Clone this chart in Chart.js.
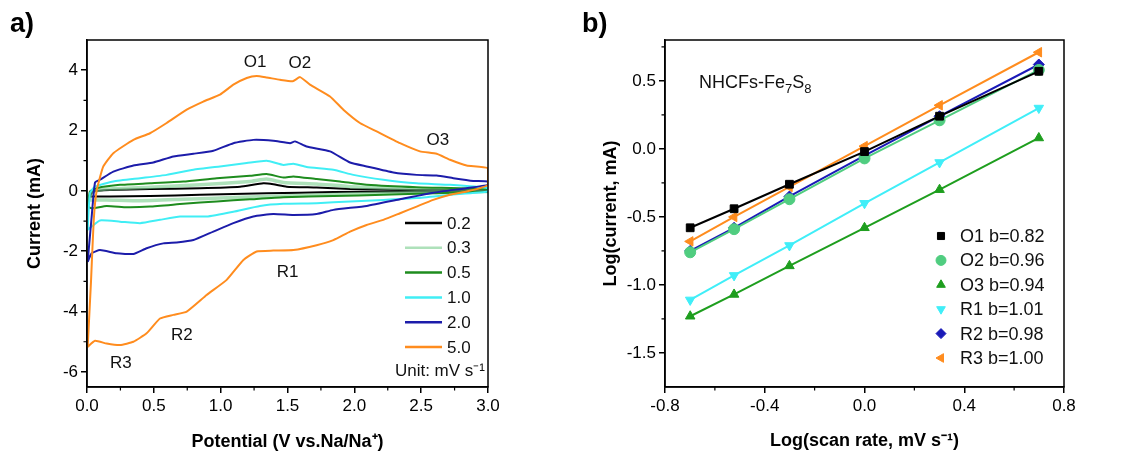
<!DOCTYPE html>
<html>
<head>
<meta charset="utf-8">
<script src="https://cdn.jsdelivr.net/npm/chart.js@4.4.0/dist/chart.umd.min.js"></script>
<style>
body{margin:0;background:#fff;width:1121px;height:460px;overflow:hidden;position:relative}
#wa{position:absolute;left:0;top:0;width:560px;height:460px}
#wb{position:absolute;left:560px;top:0;width:561px;height:460px}
</style>
</head>
<body>
<div id="wa"><canvas id="cvA"></canvas></div>
<div id="wb"><canvas id="cvB"></canvas></div>
<script>
// ---- panel a: CV curves (potential V, current mA), anodic then cathodic branch
const rateLabels = ['0.2', '0.3', '0.5', '1.0', '2.0', '5.0']
const rateColors = ['#000000', 'rgba(120,205,140,0.6)', '#1e8c1e', '#40eef5', '#1c1caa', '#ff8c1e']

const cv02x = [0.017, 0.047, 0.172, 0.471, 0.845, 1.145, 1.319, 1.394, 1.494, 1.718, 1.968, 2.466, 3.0, 3.0, 2.342, 1.843, 1.344, 0.845, 0.471, 0.172, 0.047, 0.017]
const cv02y = [-0.19, -0.02, 0.03, 0.06, 0.09, 0.14, 0.25, 0.22, 0.14, 0.11, 0.06, 0.03, 0.02, -0.01, -0.02, -0.04, -0.08, -0.13, -0.17, -0.19, -0.19, -0.19]

const cv03x = [0.01, 0.047, 0.147, 0.471, 0.845, 1.219, 1.344, 1.469, 1.718, 1.968, 2.466, 3.0, 3.0, 2.466, 1.968, 1.469, 1.095, 0.721, 0.397, 0.147, 0.047, 0.01]
const cv03y = [-0.30, -0.02, 0.06, 0.12, 0.20, 0.31, 0.39, 0.28, 0.23, 0.14, 0.06, 0.03, -0.02, -0.06, -0.10, -0.17, -0.22, -0.28, -0.33, -0.30, -0.30, -0.30]

const cv05x = [0.005, 0.022, 0.072, 0.247, 0.471, 0.721, 0.970, 1.219, 1.344, 1.469, 1.544, 1.718, 1.893, 2.092, 2.466, 3.0, 3.0, 2.59, 2.217, 1.843, 1.469, 1.219, 0.970, 0.721, 0.471, 0.297, 0.147, 0.035, 0.005]
const cv05y = [-0.52, -0.02, 0.09, 0.20, 0.25, 0.31, 0.42, 0.50, 0.56, 0.44, 0.48, 0.39, 0.31, 0.20, 0.12, 0.06, -0.02, -0.08, -0.13, -0.17, -0.21, -0.28, -0.35, -0.43, -0.52, -0.54, -0.50, -0.58, -0.52]

const cv10x = [0.005, 0.022, 0.06, 0.197, 0.397, 0.596, 0.796, 0.995, 1.195, 1.344, 1.469, 1.544, 1.643, 1.843, 1.993, 2.217, 2.466, 2.716, 3.0, 3.0, 2.716, 2.466, 2.217, 1.968, 1.718, 1.469, 1.294, 1.095, 0.895, 0.696, 0.546, 0.397, 0.247, 0.097, 0.035, 0.005]
const cv10y = [-1.29, -0.08, 0.14, 0.31, 0.42, 0.53, 0.70, 0.81, 0.92, 1.00, 0.86, 0.90, 0.79, 0.70, 0.53, 0.37, 0.25, 0.20, 0.09, -0.02, -0.13, -0.24, -0.30, -0.35, -0.41, -0.43, -0.50, -0.69, -0.85, -0.85, -0.96, -1.07, -1.02, -0.98, -1.18, -1.29]

const cv20x = [0.005, 0.035, 0.06, 0.097, 0.197, 0.347, 0.496, 0.646, 0.796, 0.945, 1.095, 1.244, 1.394, 1.519, 1.556, 1.643, 1.818, 1.968, 2.092, 2.292, 2.466, 2.616, 2.741, 2.89, 3.0, 3.0, 2.84, 2.59, 2.342, 2.092, 1.843, 1.718, 1.544, 1.394, 1.244, 1.095, 0.945, 0.796, 0.671, 0.571, 0.446, 0.347, 0.222, 0.097, 0.035, 0.005]
const cv20y = [-2.35, -0.85, 0.28, 0.37, 0.64, 0.84, 0.94, 1.14, 1.23, 1.33, 1.58, 1.69, 1.66, 1.58, 1.64, 1.47, 1.31, 0.94, 0.81, 0.61, 0.53, 0.51, 0.42, 0.33, 0.31, 0.20, 0.09, -0.06, -0.28, -0.50, -0.63, -0.77, -0.80, -0.77, -0.85, -1.07, -1.35, -1.63, -1.71, -1.74, -1.90, -2.09, -2.07, -1.96, -2.07, -2.35]

const cv50x = [0.005, 0.03, 0.05, 0.072, 0.122, 0.197, 0.347, 0.471, 0.596, 0.746, 0.870, 0.995, 1.095, 1.195, 1.269, 1.344, 1.444, 1.539, 1.594, 1.668, 1.818, 1.918, 2.042, 2.167, 2.342, 2.491, 2.616, 2.716, 2.840, 3.0, 3.0, 2.94, 2.84, 2.716, 2.59, 2.466, 2.342, 2.217, 2.092, 1.968, 1.843, 1.718, 1.544, 1.394, 1.269, 1.170, 1.045, 0.895, 0.746, 0.646, 0.546, 0.446, 0.347, 0.247, 0.147, 0.060, 0.005]
const cv50y = [-5.17, -3.0, -1.0, 0, 0.81, 1.25, 1.69, 1.91, 2.25, 2.69, 2.96, 3.19, 3.52, 3.74, 3.81, 3.76, 3.68, 3.63, 3.77, 3.52, 3.13, 2.69, 2.25, 1.97, 1.58, 1.31, 1.23, 1.03, 0.84, 0.75, 0.20, 0.09, -0.02, -0.13, -0.30, -0.52, -0.74, -0.96, -1.13, -1.35, -1.63, -1.80, -1.96, -1.98, -2.01, -2.29, -2.95, -3.45, -4.00, -4.11, -4.23, -4.72, -5.00, -5.11, -5.06, -4.97, -5.17]

const cvX = [cv02x, cv03x, cv05x, cv10x, cv20x, cv50x]
const cvY = [cv02y, cv03y, cv05y, cv10y, cv20y, cv50y]
const cvWidth = [2, 3.5, 2, 2, 2, 2]

const peakNames = ['O1', 'O2', 'O3', 'R1', 'R2', 'R3']
const peakX = [1.257, 1.593, 2.625, 1.50, 0.71, 0.254]
const peakY = [4.27, 4.24, 1.68, -2.70, -4.79, -5.72]

const aTicksX = [0, 0.5, 1, 1.5, 2, 2.5, 3]
const aTicksY = [-6, -4, -2, 0, 2, 4]
const aMinorX = [0.25, 0.75, 1.25, 1.75, 2.25, 2.75]
const aMinorY = [-5, -3, -1, 1, 3]

// ---- panel b: log(i) vs log(v)
const logRate = [-0.699, -0.523, -0.301, 0, 0.301, 0.699]
const peakLabels = ['O1 b=0.82', 'O2 b=0.96', 'O3 b=0.94', 'R1 b=1.01', 'R2 b=0.98', 'R3 b=1.00']
const logO1 = [-0.58, -0.44, -0.26, -0.02, 0.24, 0.57]
const logO2 = [-0.76, -0.59, -0.37, -0.07, 0.21, 0.58]
const logO3 = [-1.23, -1.07, -0.86, -0.58, -0.30, 0.08]
const logR1 = [-1.11, -0.93, -0.71, -0.40, -0.10, 0.30]
const logR2 = [-0.75, -0.58, -0.35, -0.05, 0.24, 0.62]
const logR3 = [-0.68, -0.50, -0.28, 0.02, 0.32, 0.71]
const logSeries = [logO1, logO2, logO3, logR1, logR2, logR3]
const peakColors = ['#000000', '#50cd80', '#1e9e1e', '#40eef8', '#1a1ab8', '#ff8c1e']
const peakStyles = ['rect', 'circle', 'triangle', 'triangle', 'rectRot', 'triangle']
const peakRot = [0, 0, 0, 180, 0, -90]

const bTicksX = [-0.8, -0.4, 0, 0.4, 0.8]
const bTicksY = [-1.5, -1.0, -0.5, 0, 0.5]
const bMinorX = [-0.6, -0.2, 0.2, 0.6]
const bMinorY = [-1.25, -0.75, -0.25, 0.25, 0.75]

Chart.defaults.font.family = "'Liberation Sans', Arial, sans-serif"
Chart.defaults.color = '#000'
const FONT = "'Liberation Sans', Arial, sans-serif"

function axisOpts(min, max, ticks, fmt, title, fit, titlePad) {
    return {
        type: 'linear', min: min, max: max,
        afterBuildTicks: (ax) => { ax.ticks = ticks.map(v => ({ value: v })) },
        afterFit: fit,
        ticks: { callback: fmt, font: { size: 17 }, color: '#000', padding: 3, maxRotation: 0, autoSkip: false },
        grid: { drawOnChartArea: false, drawTicks: true, tickLength: 6, color: '#000', lineWidth: 1.5 },
        border: { display: true, color: '#000', width: 1.5 },
        title: { display: true, text: title, font: { size: 18, weight: 'bold' }, color: '#000', padding: titlePad }
    }
}

// box, minor ticks, panel letter
function framePlugin(letter, minorX, minorY) {
    return {
        id: 'frame' + letter,
        afterDraw(chart) {
            const ctx = chart.ctx, a = chart.chartArea
            const sx = chart.scales.x, sy = chart.scales.y
            ctx.save()
            ctx.strokeStyle = '#000'
            ctx.lineWidth = 1.5
            ctx.strokeRect(a.left, a.top, a.right - a.left, a.bottom - a.top)
            ctx.lineWidth = 1.2
            ctx.beginPath()
            for (const v of minorX) {
                const px = sx.getPixelForValue(v)
                ctx.moveTo(px, a.bottom); ctx.lineTo(px, a.bottom + 3.5)
            }
            for (const v of minorY) {
                const py = sy.getPixelForValue(v)
                ctx.moveTo(a.left, py); ctx.lineTo(a.left - 3.5, py)
            }
            ctx.stroke()
            ctx.font = 'bold 27px ' + FONT
            ctx.fillStyle = '#000'
            ctx.textBaseline = 'alphabetic'
            ctx.textAlign = 'left'
            ctx.fillText(letter, letter === 'a)' ? 10 : 22, 32)
            ctx.restore()
        }
    }
}

const cvDatasets = rateLabels.map((lab, i) => ({
    label: lab,
    data: cvX[i].map((x, j) => ({ x: x, y: cvY[i][j] })),
    borderColor: rateColors[i],
    borderWidth: cvWidth[i],
    showLine: true,
    pointRadius: 0,
    tension: 0.15,
    order: i === 5 ? 0 : 6 - i
}))

const cvExtras = {
    id: 'cvExtras',
    afterDatasetsDraw(chart) {
        const ctx = chart.ctx, sx = chart.scales.x, sy = chart.scales.y
        ctx.save()
        ctx.fillStyle = '#111'
        ctx.font = '17px ' + FONT
        ctx.textAlign = 'center'
        ctx.textBaseline = 'middle'
        peakNames.forEach((n, i) => ctx.fillText(n, sx.getPixelForValue(peakX[i]), sy.getPixelForValue(peakY[i])))
        // legend
        ctx.textAlign = 'left'
        rateLabels.forEach((lab, i) => {
            const y = 223 + i * 24.8
            ctx.strokeStyle = rateColors[i]
            ctx.lineWidth = 2.5
            ctx.beginPath(); ctx.moveTo(405, y); ctx.lineTo(442, y); ctx.stroke()
            ctx.fillText(lab, 447, y + 1)
        })
        ctx.textAlign = 'right'
        ctx.fillText('Unit: mV s\u207B\u00B9', 485, 371)
        ctx.restore()
    }
}

new Chart(document.getElementById('cvA'), {
    type: 'scatter',
    data: { datasets: cvDatasets },
    options: {
        responsive: true, maintainAspectRatio: false, animation: false,
        layout: { padding: { top: 40, right: 72, left: 0, bottom: 0 } },
        plugins: { legend: { display: false }, tooltip: { enabled: false } },
        scales: {
            x: axisOpts(0, 3, aTicksX, v => Number(v).toFixed(1), 'Potential (V vs.Na/Na\u207A)', s => { s.height = 73 }, { top: 0, bottom: 7 }),
            y: axisOpts(-6.5, 5, aTicksY, v => String(v), 'Current (mA)', s => { s.width = 87 }, { top: 24, bottom: 0 })
        }
    },
    plugins: [framePlugin('a)', aMinorX, aMinorY), cvExtras]
})

const logDatasets = peakLabels.map((lab, i) => ({
    label: lab,
    data: logRate.map((x, j) => ({ x: x, y: logSeries[i][j] })),
    borderColor: peakColors[i],
    backgroundColor: peakColors[i],
    borderWidth: 2,
    showLine: true,
    pointStyle: peakStyles[i],
    rotation: peakRot[i],
    pointRadius: 5.5,
    pointBorderWidth: 1
}))

const logExtras = {
    id: 'logExtras',
    afterDatasetsDraw(chart) {
        const ctx = chart.ctx
        ctx.save()
        ctx.textBaseline = 'middle'
        ctx.textAlign = 'left'
        peakLabels.forEach((lab, i) => {
            const y = 236 + i * 24.4
            ctx.fillStyle = peakColors[i]
            ctx.strokeStyle = peakColors[i]
            ctx.lineWidth = 1
            Chart.helpers.drawPoint(ctx, { pointStyle: peakStyles[i], rotation: peakRot[i], radius: 5, borderWidth: 1 }, 381, y)
            ctx.fillStyle = '#111'
            ctx.font = '18px ' + FONT
            ctx.fillText(lab, 400, y + 1)
        })
        // sample name with subscripts
        let x = 139
        const y = 83
        const parts = [['NHCFs-Fe', 0], ['7', 1], ['S', 0], ['8', 1]]
        ctx.fillStyle = '#111'
        for (const [t, sub] of parts) {
            ctx.font = (sub ? '13px ' : '18px ') + FONT
            ctx.fillText(t, x, sub ? y + 6 : y)
            x += ctx.measureText(t).width
        }
        ctx.restore()
    }
}

new Chart(document.getElementById('cvB'), {
    type: 'scatter',
    data: { datasets: logDatasets },
    options: {
        responsive: true, maintainAspectRatio: false, animation: false,
        layout: { padding: { top: 40, right: 57, left: 0, bottom: 0 } },
        plugins: { legend: { display: false }, tooltip: { enabled: false } },
        scales: {
            x: axisOpts(-0.8, 0.8, bTicksX, v => Number(v).toFixed(1), 'Log(scan rate, mV s\u207B\u00B9)', s => { s.height = 73 }, { top: 0, bottom: 8 }),
            y: axisOpts(-1.75, 0.8, bTicksY, v => Number(v).toFixed(1), 'Log(current, mA)', s => { s.width = 105 }, { top: 40, bottom: 0 })
        }
    },
    plugins: [framePlugin('b)', bMinorX, bMinorY), logExtras]
})
</script>
</body>
</html>
